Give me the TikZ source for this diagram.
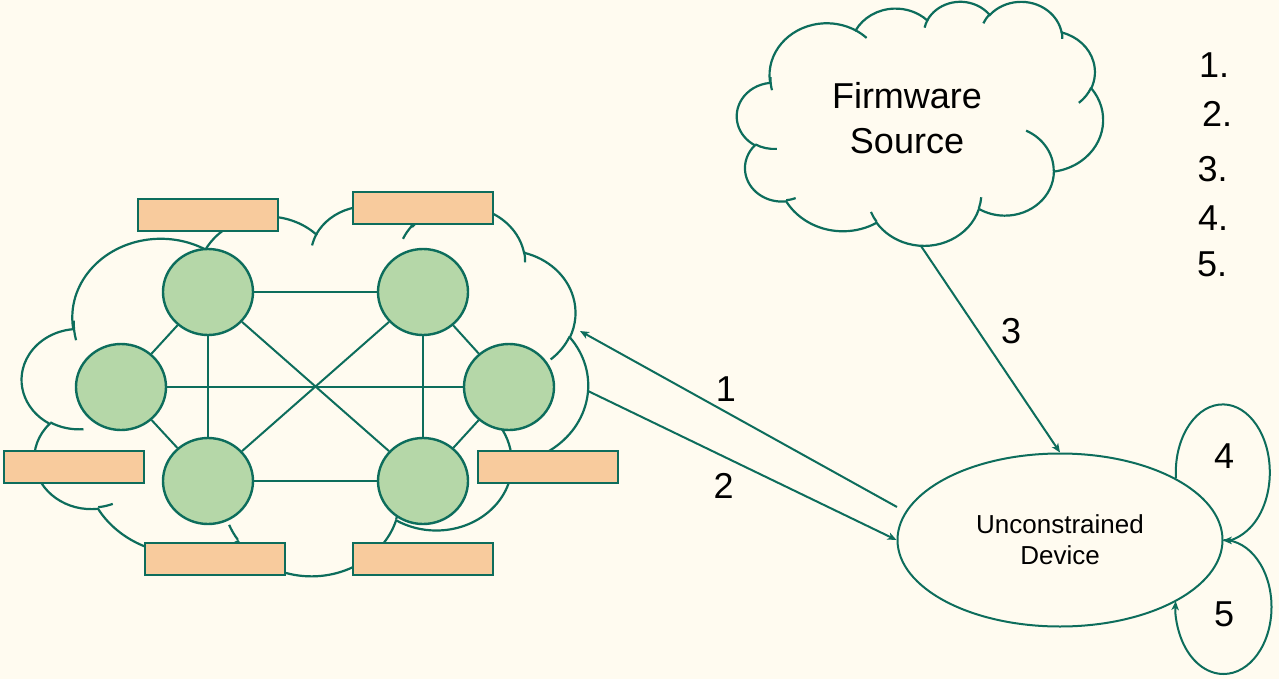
\documentclass[tikz,border=0pt]{standalone}
\usepackage{fontspec}
\setmainfont{Liberation Sans}
\usetikzlibrary{positioning,arrows.meta,shapes.geometric}
\definecolor{cbg}{HTML}{FFFBF0}
\definecolor{cteal}{HTML}{0D6D5C}
\definecolor{cgreen}{HTML}{B5D7A8}
\definecolor{corange}{HTML}{F8CB9D}

% visual angle -> parametric angle on an ellipse (y up)
\pgfmathdeclarefunction{skewang}{3}{%
  \begingroup
    \pgfmathparse{-((#1)+mod(atan2((#2)*sin(#1),(#3)*cos(#1))-(#1)+540,360)-180)}%
    \pgfmathsmuggle\pgfmathresult
  \endgroup}
\newcommand\cloudarc[4]{%
  arc[x radius=#1, y radius=#2,
      start angle={skewang(#3,#1,#2)},
      end angle={skewang(#3+#4,#1,#2)}]}
% cloud outline in a box: left, top, width, height
\newcommand\drawcloud[4]{%
  \begin{scope}[shift={(#1,-#2)}, xscale=#3/43.2, yscale=#4/43.2]
    \draw[cloudline] (3.900,-14.370)
      \cloudarc{6.753}{9.190}{-190.4875}{123.7805}
      \cloudarc{5.333}{7.267}{-144.1024}{89.9452}
      \cloudarc{4.365}{5.945}{-145.8079}{99.7230}
      \cloudarc{4.857}{6.595}{-130.9861}{117.2417}
      \cloudarc{5.333}{7.273}{-78.7089}{109.0269}
      \cloudarc{6.775}{9.220}{-46.2673}{130.2690}
      \cloudarc{5.785}{7.867}{0.6250}{114.0333}
      \cloudarc{6.752}{9.215}{22.4516}{115.1726}
      \cloudarc{7.720}{10.543}{66.2426}{75.7110}
      \cloudarc{4.360}{5.918}{-274.9421}{146.7356}
      \cloudarc{4.345}{5.945}{-246.8285}{152.5189}
      -- cycle;
    \draw[cloudline]
      (4.693,-26.177) \cloudarc{4.345}{5.945}{86.7420}{26.4295}
      (6.928,-34.899) \cloudarc{4.360}{5.918}{73.6105}{11.4475}
      (16.478,-39.090) \cloudarc{6.752}{9.215}{137.6242}{14.0811}
      (28.827,-34.751) \cloudarc{6.752}{9.215}{6.4533}{15.9984}
      (34.129,-22.954) \cloudarc{5.785}{7.867}{-70.2924}{70.9174}
      (41.798,-15.354) \cloudarc{5.333}{7.273}{30.3180}{27.7515}
      (38.324,-5.426) \cloudarc{4.857}{6.595}{-13.7443}{14.8589}
      (29.078,-3.952) \cloudarc{4.857}{6.595}{-149.1815}{18.1954}
      (22.141,-4.720) \cloudarc{4.365}{5.945}{-163.4943}{17.6864}
      (14.000,-5.192) \cloudarc{6.753}{9.190}{-66.7070}{12.3194}
      (4.127,-15.789) \cloudarc{6.753}{9.190}{162.0471}{19.4203};
  \end{scope}}

\tikzset{
  cloudline/.style={draw=cteal, line width=2.2pt},
  peer/.style={ellipse, draw=cteal, line width=2.4pt, fill=cgreen, minimum width=90pt, minimum height=86pt, inner sep=0pt},
  tag/.style={rectangle, draw=cteal, line width=2.4pt, fill=corange, minimum width=140pt, minimum height=32pt, inner sep=0pt},
  link/.style={cteal, line width=2pt},
  sig/.style={-{Stealth[length=9pt, width=7.5pt, inset=2.5pt]}, cteal, line width=2pt},
  num/.style={font=\fontsize{36}{43}\selectfont, text=black, inner sep=0pt},
  device/.style={ellipse, draw=cteal, line width=2pt, minimum width=325pt, minimum height=173pt, inner sep=0pt, align=center, font=\fontsize{26}{31}\selectfont},
}

\begin{document}
\begin{tikzpicture}[x=1pt, y=1pt]
  \useasboundingbox (0,0) rectangle (1279,-679);
  \fill[cbg] (0,0) rectangle (1279,-679);

  \drawcloud{22}{205}{566}{370}
  \drawcloud{737}{1}{366}{244}

  % peers
  \node[peer] (p1) at (208,-292) {};
  \node[peer] (p2) at (423,-292) {};
  \node[peer] (p3) at (121,-387) {};
  \node[peer] (p4) at (509,-387) {};
  \node[peer] (p5) at (208,-481) {};
  \node[peer] (p6) at (423,-481) {};
  \foreach \a/\b in {p1/p2, p1/p3, p1/p5, p1/p6, p2/p4, p2/p6, p2/p5, p3/p4, p3/p5, p4/p6, p5/p6}
    \draw[link] (\a) -- (\b);

  % tags
  \node[tag] (t1) at (208,-215) {};
  \node[tag] (t2) at (423,-208) {};
  \node[tag] (t3) at (74,-467) {};
  \node[tag] (t4) at (548,-467) {};
  \node[tag] (t5) at (215,-559) {};
  \node[tag] (t6) at (423,-559) {};

  \node[font=\fontsize{36}{45}\selectfont, align=center] (fw) at (907,-118) {Firmware\\Source};
  \node[device] (dev) at (1060,-540) {Unconstrained\\Device};

  \coordinate (fwout) at (921,-246);
  \coordinate (meshin) at (580,-331);
  \coordinate (meshout) at (588,-391);
  \coordinate (devout) at (897,-507);

  \draw[sig] (devout) -- node[num, pos=.54, above=9pt] (l1) {1} (meshin);
  \draw[sig] (meshout) -- node[num, pos=.44, below=16pt] (l2) {2} (dev.west);
  \draw[sig] (fwout) -- node[num, pos=.41, right=22pt] (l3) {3} (dev.north);
  \draw[sig] (dev.28) arc[start angle=185, end angle=-90, x radius=47, y radius=68];
  \draw[sig] (dev.east) arc[start angle=90, end angle=-185, x radius=48, y radius=67];
  \node[num] (l4) at (1224,-456) {4};
  \node[num] (l5) at (1224,-614) {5};

  % steps
  \node[num, anchor=base west] (s1) at (1199,-78) {1.};
  \node[num, anchor=base west] (s2) at (1202,-127) {2.};
  \node[num, anchor=base west] (s3) at (1197.5,-182) {3.};
  \node[num, anchor=base west] (s4) at (1198,-230) {4.};
  \node[num, anchor=base west] (s5) at (1197,-276) {5.};
\end{tikzpicture}
\end{document}
